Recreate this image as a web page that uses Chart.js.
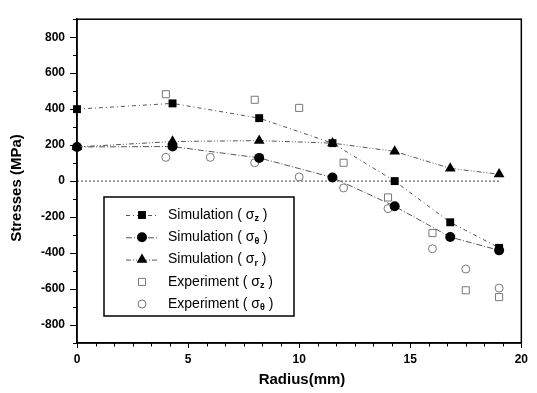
<!DOCTYPE html>
<html><head><meta charset="utf-8">
<script src="https://cdn.jsdelivr.net/npm/chart.js@4/dist/chart.umd.min.js"></script>
<style>html,body{margin:0;padding:0;background:#fff}canvas{display:block}</style>
</head><body>
<canvas id="c" width="537" height="393"></canvas>
<script>
// ---- data ----
const simRadius      = [0, 4.3, 8.2, 11.5, 14.3, 16.8, 19];
const simSigmaZ      = [400, 432, 350, 211, 0, -229, -371];
const simSigmaTheta  = [190, 192, 129, 20, -140, -311, -385];
const simSigmaR      = [190, 220, 225, 211, 165, 71, 38];
const expZRadius     = [4, 8, 10, 12, 14, 16, 17.5, 19];
const expSigmaZ      = [483, 452, 407, 102, -91, -289, -607, -645];
const expThetaRadius = [4, 6, 8, 10, 12, 14, 16, 17.5, 19];
const expSigmaTheta  = [132, 132, 102, 23, -38, -153, -376, -489, -595];
const zeroLineX      = [0, 19];
const zeroLineY      = [0, 0];
const xTickLabels    = [0, 5, 10, 15, 20];
const yTickLabels    = [-800, -600, -400, -200, 0, 200, 400, 600, 800];
const legendNames    = ['Simulation', 'Simulation', 'Simulation', 'Experiment', 'Experiment'];
const legendSubs     = ['z', 'θ', 'r', 'z', 'θ'];
const xTitle = 'Radius(mm)';
const yTitle = 'Stresses (MPa)';

const pts = (xs, ys) => xs.map((v, i) => ({x: v, y: ys[i]}));
const FONT = '"Liberation Sans", Arial, sans-serif';

const datasets = [
  {label: 'Simulation (σz)', data: pts(simRadius, simSigmaZ), showLine: true, order: 2,
   borderColor: '#555', borderWidth: 1, borderDash: [4, 3, 1, 3],
   pointStyle: 'rect', pointRadius: 5.6, pointBackgroundColor: '#000', pointBorderColor: '#000', pointBorderWidth: 0},
  {label: 'Simulation (σθ)', data: pts(simRadius, simSigmaTheta), showLine: true, order: 1,
   borderColor: '#555', borderWidth: 1, borderDash: [6, 2, 1, 2],
   pointStyle: 'circle', pointRadius: 5, pointBackgroundColor: '#000', pointBorderColor: '#000', pointBorderWidth: 0},
  {label: 'Simulation (σr)', data: pts(simRadius, simSigmaR), showLine: true, order: 0,
   borderColor: '#555', borderWidth: 1, borderDash: [5, 2, 1, 2, 1, 2],
   pointStyle: 'triangle', pointRadius: 6.2, pointBackgroundColor: '#000', pointBorderColor: '#000', pointBorderWidth: 0},
  {label: 'Experiment (σz)', data: pts(expZRadius, expSigmaZ), showLine: false, order: 3,
   pointStyle: 'rect', pointRadius: 5, pointBackgroundColor: 'rgba(0,0,0,0)', pointBorderColor: '#777', pointBorderWidth: 1},
  {label: 'Experiment (σθ)', data: pts(expThetaRadius, expSigmaTheta), showLine: false, order: 3,
   pointStyle: 'circle', pointRadius: 4, pointBackgroundColor: 'rgba(0,0,0,0)', pointBorderColor: '#777', pointBorderWidth: 1},
  {label: 'zero', data: pts(zeroLineX, zeroLineY), showLine: true, order: 4,
   borderColor: '#444', borderWidth: 1, borderDash: [2, 2], pointRadius: 0}
];
datasets.forEach(d => { d.clip = false; d.fill = false; d.tension = 0; });

const decor = {
  id: 'decor',
  afterDraw(chart) {
    const {ctx, chartArea: a, scales: {x, y}} = chart;
    ctx.save();
    // frame
    ctx.strokeStyle = '#000';
    ctx.lineWidth = 1.5;
    ctx.strokeRect(a.left, a.top, a.right - a.left, a.bottom - a.top);
    // ticks
    ctx.lineWidth = 1;
    ctx.beginPath();
    for (let v = -900; v <= 900; v += 100) {
      const p = Math.round(y.getPixelForValue(v)) + 0.5;
      const len = (v % 200 === 0) ? 7 : 4;
      ctx.moveTo(a.left - len, p); ctx.lineTo(a.left, p);
    }
    for (let i = 0; i <= 24; i++) {
      const p = Math.round(x.getPixelForValue(i * 5 / 6)) + 0.5;
      const len = (i % 6 === 0) ? 5 : 3.5;
      ctx.moveTo(p, a.bottom); ctx.lineTo(p, a.bottom + len);
    }
    ctx.stroke();
    // axis titles
    ctx.fillStyle = '#000';
    ctx.font = 'bold 15px ' + FONT;
    ctx.textAlign = 'center';
    ctx.textBaseline = 'middle';
    ctx.fillText(xTitle, 302, 380);
    ctx.save();
    ctx.translate(17, 188);
    ctx.rotate(-Math.PI / 2);
    ctx.fillText(yTitle, 0, 0);
    ctx.restore();
    // legend box
    const bx = 104, by = 197, bw = 190, bh = 119;
    ctx.fillStyle = '#fff';
    ctx.fillRect(bx, by, bw, bh);
    ctx.strokeStyle = '#000';
    ctx.lineWidth = 1.5;
    ctx.strokeRect(bx, by, bw, bh);
    const rows = [215, 237.3, 259.6, 281.9, 304];
    const metas = chart.data.datasets;
    for (let i = 0; i < 5; i++) {
      const ds = metas[i];
      const ry = rows[i];
      if (ds.showLine) {
        ctx.save();
        ctx.strokeStyle = ds.borderColor;
        ctx.lineWidth = 1;
        ctx.setLineDash(ds.borderDash);
        ctx.beginPath();
        ctx.moveTo(126, ry + 0.5); ctx.lineTo(159, ry + 0.5);
        ctx.stroke();
        ctx.restore();
      }
      ctx.save();
      ctx.fillStyle = ds.pointBackgroundColor;
      ctx.strokeStyle = ds.pointBorderColor;
      ctx.lineWidth = ds.pointBorderWidth || 0.0001;
      Chart.helpers.drawPoint(ctx, {pointStyle: ds.pointStyle, radius: ds.pointRadius, rotation: 0, borderWidth: ds.pointBorderWidth}, 142, ry);
      ctx.restore();
      // text with subscript
      ctx.fillStyle = '#000';
      ctx.textAlign = 'left';
      ctx.textBaseline = 'middle';
      ctx.font = '14px ' + FONT;
      let tx = 168;
      const s1 = legendNames[i] + ' ( σ';
      ctx.fillText(s1, tx, ry);
      tx += ctx.measureText(s1).width;
      ctx.font = 'bold 9px ' + FONT;
      ctx.fillText(legendSubs[i], tx, ry + 4);
      tx += ctx.measureText(legendSubs[i]).width;
      ctx.font = '14px ' + FONT;
      ctx.fillText(' )', tx, ry);
    }
    ctx.restore();
  }
};

new Chart(document.getElementById('c'), {
  type: 'scatter',
  data: {datasets},
  options: {
    responsive: false,
    devicePixelRatio: 1,
    animation: false,
    layout: {padding: {left: 0, top: 11, right: 10, bottom: 0}},
    plugins: {legend: {display: false}, tooltip: {enabled: false}},
    scales: {
      x: {
        type: 'linear', min: 0, max: 20,
        afterBuildTicks: s => { s.ticks = xTickLabels.map(v => ({value: v})); },
        afterFit: s => { s.height = 50; },
        grid: {display: false, drawTicks: false},
        border: {display: true, color: '#000', width: 1.5},
        ticks: {color: '#000', font: {family: FONT, size: 12, weight: 'bold'}, padding: 9, maxRotation: 0}
      },
      y: {
        type: 'linear', min: -900, max: 900,
        afterBuildTicks: s => { s.ticks = yTickLabels.map(v => ({value: v})); },
        afterFit: s => { s.width = 77; },
        grid: {display: false, drawTicks: false},
        border: {display: true, color: '#000', width: 1.5},
        ticks: {color: '#000', font: {family: FONT, size: 12, weight: 'bold'}, padding: 12}
      }
    }
  },
  plugins: [decor]
});
</script>
</body></html>
